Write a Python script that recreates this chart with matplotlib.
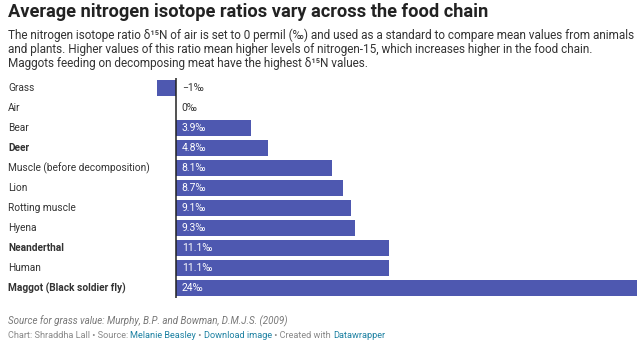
import matplotlib
matplotlib.use("Agg")
import matplotlib.pyplot as plt

categories = ["Grass", "Air", "Bear", "Deer", "Muscle (before decomposition)", "Lion",
              "Rotting muscle", "Hyena", "Neanderthal", "Human", "Maggot (Black soldier fly)"]
values = [-1, 0, 3.9, 4.8, 8.1, 8.7, 9.1, 9.3, 11.1, 11.1, 24]
value_labels = ["−1‰", "0‰", "3.9‰", "4.8‰", "8.1‰", "8.7‰", "9.1‰", "9.3‰", "11.1‰", "11.1‰", "24‰"]
bold_categories = {"Deer", "Neanderthal", "Maggot (Black soldier fly)"}

title = "Average nitrogen isotope ratios vary across the food chain"
subtitle = ["The nitrogen isotope ratio δ¹⁵N of air is set to 0 permil (‰) and used as a standard to compare mean values from animals",
            "and plants. Higher values of this ratio mean higher levels of nitrogen-15, which increases higher in the food chain.",
            "Maggots feeding on decomposing meat have the highest δ¹⁵N values."]
note = "Source for grass value: Murphy, B.P. and Bowman, D.M.J.S. (2009)"
footer = [("Chart: Shraddha Lall • Source: ", "#888888"), ("Melanie Beasley", "#1d81a2"),
          (" • ", "#888888"), ("Download image", "#1d81a2"), (" • Created with ", "#888888"),
          ("Datawrapper", "#1d81a2")]

plt.rcParams['font.family'] = ['Roboto', 'DejaVu Sans']
W, H = 642, 350
fig = plt.figure(figsize=(W / 100, H / 100), dpi=100)
fig.patch.set_facecolor("white")

def fx(px): return px / W
def fy(py): return 1 - py / H

ax_left, ax_right, ax_top, ax_bot = 157, 637, 78, 298
ax = fig.add_axes([fx(ax_left), fy(ax_bot), (ax_right - ax_left) / W, (ax_bot - ax_top) / H])
ax.set_xlim(-1, 24)
n = len(categories)
ax.set_ylim(n - 0.5, -0.5)
ax.axis("off")

bar_color = "#4e58b0"
ys = list(range(n))
ax.barh(ys, values, height=0.84, color=bar_color, edgecolor="none")
ax.plot([0, 0], [-0.5, n - 0.5], color="#222222", lw=1.1, solid_capstyle="butt")

for y, v, lab, cat in zip(ys, values, value_labels, categories):
    if v > 1.5:
        ax.annotate(lab, (0, y), xytext=(4, 0), textcoords="offset points", va="center",
                    ha="left", color="white", fontsize=7.5)
    else:
        ax.annotate(lab, (0, y), xytext=(4, 0), textcoords="offset points", va="center",
                    ha="left", color="#333333", fontsize=7.5)
    disp = ax.transData.transform((0, y))
    yfig = fig.transFigure.inverted().transform(disp)[1]
    fig.text(fx(8), yfig, cat, ha="left", va="center", fontsize=7.3, color="#333333",
             fontweight="bold" if cat in bold_categories else "normal")

fig.text(fx(8), fy(12), title, ha="left", va="center", fontsize=13.15, fontweight="bold", color="#222222")
renderer = fig.canvas.get_renderer()
for i, line in enumerate(subtitle):
    t = fig.text(fx(8), fy(35 + i * 14.5), line, ha="left", va="center", fontsize=8.45, color="#333333")
    if i == 0:
        w = t.get_window_extent(renderer=renderer).width
        if w > 628:
            t.set_fontsize(8.45 * 627 / w)
            fs = 8.45 * 627 / w
        else:
            fs = 8.45
    else:
        t.set_fontsize(fs)

fig.text(fx(8), fy(321), note, ha="left", va="center", fontsize=7, style="italic", color="#777777")

x = 8
for txt, col in footer:
    t = fig.text(fx(x), fy(336), txt, ha="left", va="center", fontsize=6.6, color=col)
    bb = t.get_window_extent(renderer=renderer)
    x += bb.width

fig.savefig("out.png", dpi=100, facecolor="white")
